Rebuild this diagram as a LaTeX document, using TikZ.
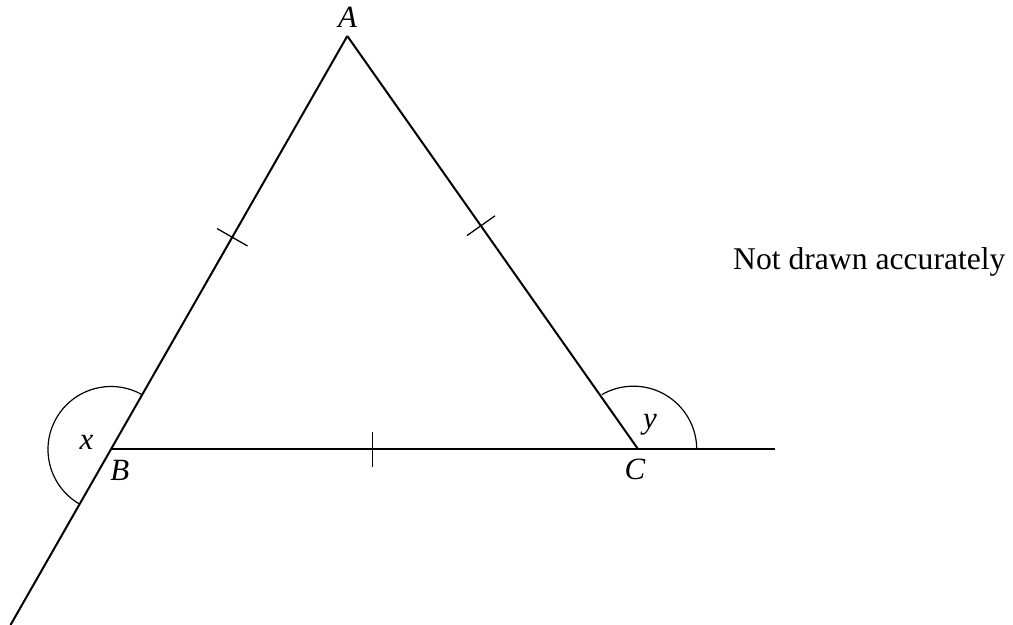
\documentclass[tikz,border=0pt]{standalone}
\usepackage{fontspec}
\setmainfont{Liberation Serif}
\usepackage{tikz}
\newcommand{\ptlab}[1]{\textit{#1}}

\begin{document}
\begin{tikzpicture}[x=1mm,y=1mm,line width=0.5mm,line join=miter,
  every node/.style={inner sep=0pt,outer sep=0pt},
  thinline/.style={line width=0.3mm},
  tickline/.style={line width=0.32mm},
  ptlabel/.style={anchor=base,font=\fontsize{22pt}{26pt}\selectfont}]
  % 画布 1013x625px，1px = 0.25mm
  \path[use as bounding box] (0,0) rectangle (253.25,156.25);
  % ---- 顶点（注释为源图像素坐标）----
  \coordinate (A)  at ( 86.825,147.250);  % px(347.3,  36.0)
  \coordinate (B)  at ( 27.750, 43.875);  % px(111.0, 449.5)
  \coordinate (C)  at (159.575, 43.875);  % px(638.3, 449.5)
  \coordinate (Bx) at (  2.625,  0.000);  % px( 10.5, 625.0)  AB 延长线端点
  \coordinate (Cx) at (193.750, 43.875);  % px(775.0, 449.5)  BC 延长线端点
  \coordinate (Cy) at (158.350, 43.875);  % px(633.4, 449.5)  y 角弧心（源图略偏左）
  % ---- 三角形与延长线 ----
  \draw (A) -- (Bx);
  \draw (A) -- (C);
  \draw (B) -- (Cx);
  % ---- 等边记号 ----
  \draw[tickline] ( 54.277, 99.096) -- ( 61.873, 94.754);  % AB 中点附近
  \draw[tickline] (116.734, 97.349) -- (123.766,102.301);  % AC
  \draw[tickline] ( 93.175, 48.175) -- ( 93.175, 39.425);  % BC
  % ---- 角弧 ----
  \draw[thinline] (B) ++(60.24:15.75) arc[start angle=60.24,end angle=240.24,radius=15.75];
  \draw[thinline] (Cy) ++(0:15.83) arc[start angle=0,end angle=119.9,radius=15.83];
  % ---- 标签：anchor=base（x＝字墨心，y＝基线）----
  \node[ptlabel] (labA) at ( 86.925,149.425) {\ptlab{A}};  % 源 px 基线 y=27
  \node[ptlabel] (labB) at ( 29.925, 36.075) {\ptlab{B}};  % 源 px 基线 y=481
  \node[ptlabel] (labC) at (158.750, 36.250) {\ptlab{C}};  % 源 px 基线 y=480
  \node[ptlabel] (labx) at ( 21.625, 43.925) {\ptlab{x}};  % 源 px 基线 y=449
  \node[ptlabel] (laby) at (162.500, 49.175) {\ptlab{y}};  % 源 px 基线 y=428
  \node[anchor=base,font=\fontsize{22.5pt}{27pt}\selectfont] (note) at (217.340, 88.925) {Not drawn accurately};
\end{tikzpicture}
\end{document}
